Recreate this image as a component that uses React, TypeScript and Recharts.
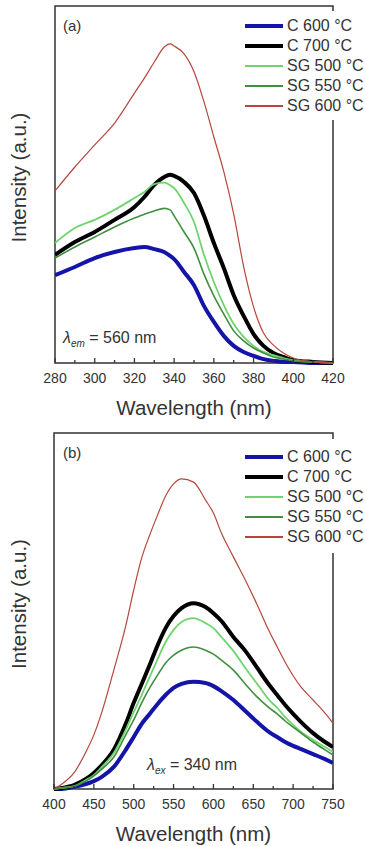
import { LineChart, Line, XAxis, YAxis, ReferenceArea, Legend } from "recharts";

// (a) excitation spectra, λem = 560 nm
const wavelengthA = [280, 290, 300, 310, 320, 325, 330, 335, 338, 340, 345, 350, 355, 360, 365, 370, 375, 380, 385, 390, 395, 400, 410, 420];
const c600A = [24.6, 26.9, 29.4, 31.1, 32.2, 32.5, 31.9, 31.1, 30.0, 29.1, 25.5, 21.8, 16.0, 11.5, 7.6, 4.8, 3.1, 2.0, 1.1, 0.6, 0.3, 0.3, 0, 0];
const c700A = [30.3, 33.9, 36.7, 40.1, 43.7, 46.5, 49.9, 52.1, 52.7, 52.4, 50.7, 47.6, 41.3, 33.6, 26.6, 19.0, 13.2, 8.1, 4.8, 2.8, 1.7, 0.8, 0.3, 0];
const sg500A = [33.6, 37.8, 40.1, 42.9, 46.2, 47.9, 50.1, 50.5, 49.8, 49.0, 44.8, 39.5, 30.3, 22.7, 16.2, 10.9, 7.3, 4.8, 3.1, 2.2, 1.4, 0.8, 0.3, 0];
const sg550A = [29.4, 32.5, 35.3, 38.1, 40.6, 41.7, 42.6, 43.3, 42.9, 41.2, 36.7, 32.2, 24.9, 18.8, 13.7, 9.0, 6.2, 4.2, 2.8, 1.7, 1.1, 0.6, 0.3, 0];
const sg600A = [48.2, 54.9, 61.1, 67.2, 75.6, 79.8, 84.3, 88.5, 89.4, 88.8, 86.6, 81.6, 73.2, 63.3, 53.6, 41.7, 27.0, 15.7, 8.4, 5.0, 2.8, 1.4, 0.3, 0];

// (b) emission spectra, λex = 340 nm
const wavelengthB = [400, 410, 425, 440, 450, 460, 475, 490, 500, 510, 520, 530, 540, 550, 560, 575, 590, 600, 610, 625, 640, 655, 670, 680, 690, 700, 710, 725, 740, 750];
const c600B = [0, 0, 0.6, 1.4, 2.2, 3.4, 6.2, 11.0, 14.6, 18.3, 21.1, 23.9, 26.4, 28.4, 29.5, 30.1, 29.8, 28.9, 27.5, 25.0, 21.9, 18.8, 16.0, 14.6, 13.2, 12.1, 11.2, 9.8, 8.4, 7.3];
const c700B = [0, 0.3, 1.1, 2.8, 4.5, 6.7, 11.0, 18.3, 24.2, 29.5, 34.8, 40.4, 45.2, 48.6, 50.8, 52.2, 51.1, 49.4, 47.2, 42.7, 38.8, 34.0, 29.2, 26.4, 23.6, 21.1, 18.8, 15.7, 13.2, 11.8];
const sg500B = [0, 0.3, 0.8, 2.5, 3.9, 6.2, 10.1, 16.6, 21.6, 26.4, 31.5, 36.5, 41.3, 44.7, 46.9, 48.0, 46.6, 45.2, 42.7, 38.8, 34.0, 29.5, 25.0, 22.8, 20.2, 18.0, 16.0, 13.8, 11.8, 10.4];
const sg550B = [0, 0.3, 0.8, 2.2, 3.7, 5.6, 9.0, 15.2, 19.4, 24.2, 28.4, 32.0, 35.4, 37.6, 39.0, 39.9, 39.0, 37.9, 36.2, 33.4, 29.5, 25.8, 22.8, 21.1, 19.1, 17.4, 15.7, 13.2, 11.0, 9.6];
const sg600B = [0, 1.4, 4.5, 10.4, 15.2, 21.6, 33.4, 45.8, 55.9, 64.9, 71.3, 77.0, 82.3, 85.7, 87.1, 86.2, 81.2, 77.5, 71.9, 65.2, 58.7, 51.7, 44.3, 39.9, 35.6, 31.8, 28.6, 25.0, 21.3, 18.5];

const seriesNames = ["C 600 °C", "C 700 °C", "SG 500 °C", "SG 550 °C", "SG 600 °C"];
const seriesKeys = ["c600", "c700", "sg500", "sg550", "sg600"];
const seriesColors = ["#1414a8", "#000000", "#6fd46f", "#3f8f3f", "#b5473c"];
const seriesWidths = [4, 4, 1.8, 1.6, 1.2];

const ticksA = [280, 290, 300, 310, 320, 330, 340, 350, 360, 370, 380, 390, 400, 410, 420];
const ticksB = [400, 425, 450, 475, 500, 525, 550, 575, 600, 625, 650, 675, 700, 725, 750];

const dataA = wavelengthA.map((wl, i) => ({
  wl,
  c600: c600A[i],
  c700: c700A[i],
  sg500: sg500A[i],
  sg550: sg550A[i],
  sg600: sg600A[i],
}));

const dataB = wavelengthB.map((wl, i) => ({
  wl,
  c600: c600B[i],
  c700: c700B[i],
  sg500: sg500B[i],
  sg550: sg550B[i],
  sg600: sg600B[i],
}));

const ink = "#333";
const font = "'Liberation Sans', Arial, sans-serif";

function AxisTick({ x, y, payload, step }: any) {
  const major = payload.value % step === 0;
  return (
    <g>
      <line x1={x} x2={x} y1={y} y2={y - (major ? 5 : 3)} stroke={ink} strokeWidth={1.3} />
      {major && (
        <text x={x} y={y + 20} textAnchor="middle" fontSize={14} fill={ink}>
          {payload.value}
        </text>
      )}
    </g>
  );
}

function LegendBox({ padTop, padBottom }: { padTop: number; padBottom: number }) {
  return (
    <div style={{ background: "#fff", paddingTop: padTop, paddingBottom: padBottom, paddingLeft: 2 }}>
      {seriesNames.map((name, i) => (
        <div key={name} style={{ display: "flex", alignItems: "center", height: 20 }}>
          <span
            style={{
              display: "inline-block",
              width: 38,
              height: seriesWidths[i] < 2 ? 2 : seriesWidths[i],
              background: seriesColors[i],
              marginRight: 4,
            }}
          />
          <span style={{ fontSize: 16, color: ink, whiteSpace: "nowrap" }}>{name}</span>
        </div>
      ))}
    </div>
  );
}

interface PanelProps {
  data: any[];
  domain: [number, number];
  ticks: number[];
  step: number;
  width: number;
  height: number;
  top: number;
  axisWidth: number;
  legendTop: number;
  padTop: number;
  padBottom: number;
}

function Panel({ data, domain, ticks, step, width, height, top, axisWidth, legendTop, padTop, padBottom }: PanelProps) {
  return (
    <LineChart width={width} height={height} data={data} margin={{ top, right: 32, bottom: 0, left: 0 }}>
      <XAxis
        dataKey="wl"
        type="number"
        domain={domain}
        ticks={ticks}
        interval={0}
        allowDataOverflow
        height={57}
        axisLine={false}
        tickLine={false}
        tickSize={0}
        tickMargin={0}
        tick={<AxisTick step={step} />}
        label={{ value: "Wavelength (nm)", position: "insideBottom", offset: 5, fontSize: 20.5, fill: ink }}
      />
      <YAxis
        domain={[0, 100]}
        width={axisWidth}
        tick={false}
        tickLine={false}
        axisLine={false}
        label={{ value: "Intensity (a.u.)", angle: -90, position: "center", dx: -8.5, dy: -7, fontSize: 20.5, fill: ink }}
      />
      <ReferenceArea x1={domain[0]} x2={domain[1]} y1={0} y2={100} fill="none" stroke={ink} strokeWidth={1.5} />
      {seriesKeys.map((k, i) => (
        <Line
          key={k}
          type="monotone"
          dataKey={k}
          name={seriesNames[i]}
          stroke={seriesColors[i]}
          strokeWidth={seriesWidths[i]}
          dot={false}
          isAnimationActive={false}
        />
      ))}
      <Legend
        layout="vertical"
        align="center"
        verticalAlign="middle"
        wrapperStyle={{ top: legendTop, left: 243, width: 122 }}
        content={() => <LegendBox padTop={padTop} padBottom={padBottom} />}
      />
    </LineChart>
  );
}

export default function App() {
  return (
    <div
      style={{
        position: "absolute",
        left: 0,
        top: 0,
        width: 365,
        height: 846,
        background: "#fff",
        fontFamily: font,
        color: ink,
        overflow: "hidden",
      }}
    >
      <div style={{ position: "absolute", left: 0, top: 0, width: 365, height: 420 }}>
        <Panel
          data={dataA}
          domain={[280, 420]}
          ticks={ticksA}
          step={20}
          width={365}
          height={420}
          top={6}
          axisWidth={55}
          legendTop={11}
          padTop={5}
          padBottom={4}
        />
        <div style={{ position: "absolute", left: 63, top: 17, fontSize: 15 }}>(a)</div>
        <div style={{ position: "absolute", left: 63, top: 328, fontSize: 16, lineHeight: "20px", whiteSpace: "nowrap" }}>
          <i>λ</i>
          <sub style={{ fontSize: 10, fontStyle: "italic" }}>em</sub> = 560 nm
        </div>
      </div>
      <div style={{ position: "absolute", left: 0, top: 420, width: 365, height: 426 }}>
        <Panel
          data={dataB}
          domain={[400, 750]}
          ticks={ticksB}
          step={50}
          width={365}
          height={426}
          top={13}
          axisWidth={54}
          legendTop={19}
          padTop={8}
          padBottom={6}
        />
        <div style={{ position: "absolute", left: 63, top: 24, fontSize: 15 }}>(b)</div>
        <div style={{ position: "absolute", left: 147, top: 335, fontSize: 16, lineHeight: "20px", whiteSpace: "nowrap" }}>
          <i>λ</i>
          <sub style={{ fontSize: 10, fontStyle: "italic" }}>ex</sub> = 340 nm
        </div>
      </div>
    </div>
  );
}
